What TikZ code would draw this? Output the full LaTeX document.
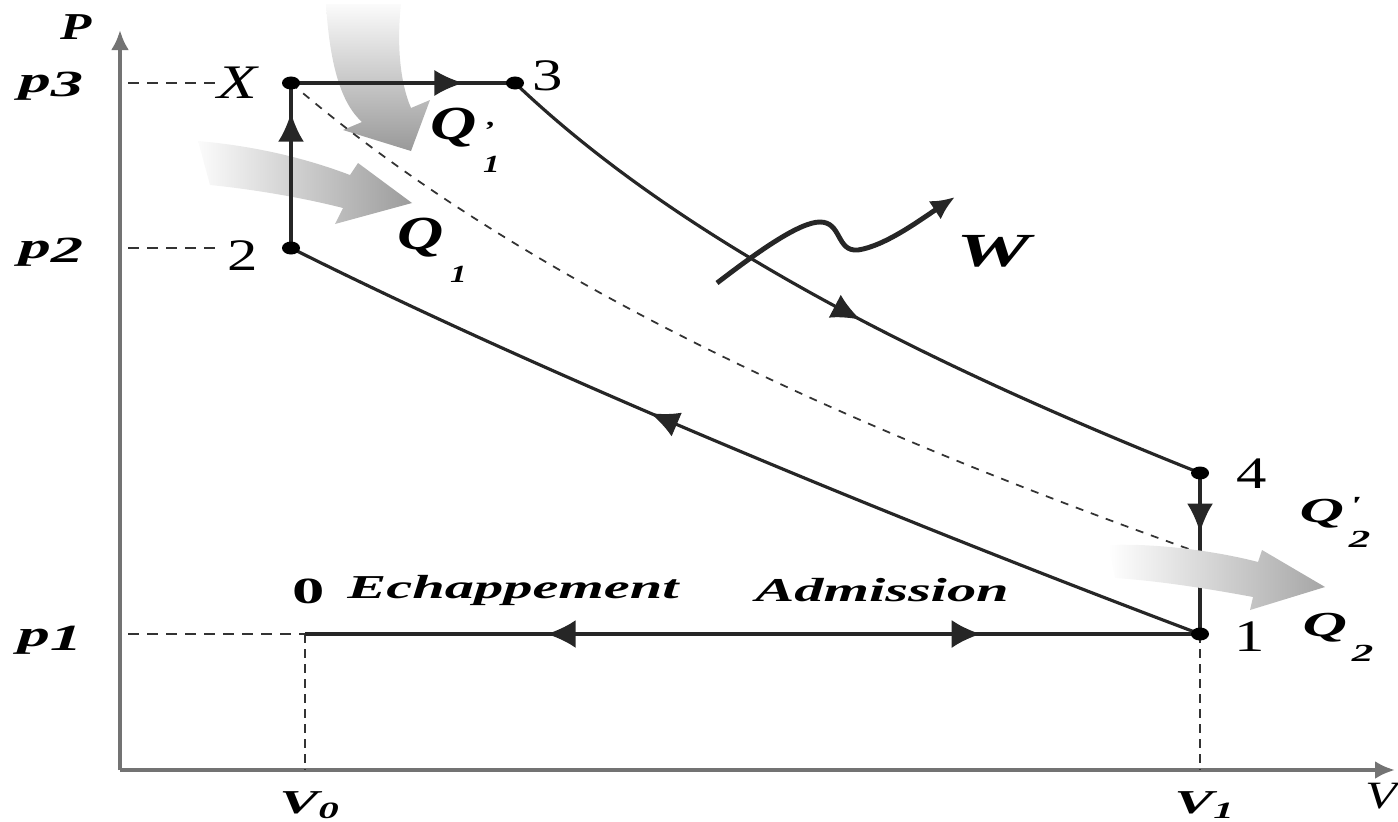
\documentclass[tikz,border=0pt]{standalone}
\usepackage{fontspec}
\setmainfont{Liberation Serif}[FakeStretch=1.35]
\newfontfamily\wideserif{Liberation Serif}[FakeStretch=1.75]
\usetikzlibrary{arrows.meta,positioning,decorations.markings}

\newcommand{\bi}{\bfseries\itshape}
\newcommand{\heatlab}[2]{Q\kern0.14em\raisebox{-1.5ex}{\scriptsize\shortstack[l]{#1\\[2pt]#2}}}

\begin{document}
\begin{tikzpicture}[
    x=0.01cm, y=-0.01cm,
    axis/.style={draw=black!55, line width=1.3pt, -{Latex[length=2mm,width=1.8mm]}},
    proc/.style={draw=black!85, line width=0.9pt},
    guide/.style={draw=black!80, line width=0.45pt, dash pattern=on 1.1mm off 0.8mm},
    vguide/.style={guide, dash pattern=on 0.9mm off 0.6mm},
    midtip/.style={postaction={decorate}, decoration={markings,
        mark=at position #1 with {\arrow{Latex[length=2.9mm,width=2.6mm]}}}},
    bothway/.style={postaction={decorate}, decoration={markings,
        mark=at position 0.27 with {\arrowreversed{Latex[length=2.9mm,width=2.8mm]}},
        mark=at position 0.755 with {\arrow{Latex[length=2.9mm,width=2.8mm]}}}},
    lbl/.style={inner sep=0pt},
    num/.style={lbl, font=\fontsize{12.8}{14}\selectfont},
    axlab/.style={lbl, font=\fontsize{10.8}{12}\selectfont\bi},
    wide/.style={lbl, font=\wideserif\fontsize{9.5}{11}\selectfont\bi},
    heatname/.style={lbl, font=\fontsize{13.5}{15}\selectfont\bi},
    dot/.style={fill=black}
]
    \useasboundingbox (0,0) rectangle (1398,821);

    % States
    \coordinate (orig) at (120,770);
    \coordinate (ptop) at (120,30);
    \coordinate (vend) at (1395,770);
    \coordinate (a3) at (128,83);
    \coordinate (a2) at (128,248);
    \coordinate (a1) at (128,634);
    \coordinate (ptX) at (291,83);
    \coordinate (pt3) at (515,83);
    \coordinate (pt2) at (291,248);
    \coordinate (pt4) at (1200,473);
    \coordinate (pt1) at (1200,634);
    \coordinate (pt0) at (305,634);
    \coordinate (qmeet) at (1200,553);
    \coordinate (v0) at (305,770);
    \coordinate (v1) at (1200,770);
    \coordinate (wst) at (717,283);
    \coordinate (wtip) at (955,197);

    % Labels
    \node [axlab] (labP) at (76,27) {P};
    \node [lbl, font=\fontsize{11}{12}\selectfont\itshape] (labV) at (1381,796) {V};
    \node [wide, font=\wideserif\fontsize{10.5}{12}\selectfont\bi] (labp3) at (51,86) {p\lower0.25ex\hbox{3}};
    \node [wide, font=\wideserif\fontsize{10.5}{12}\selectfont\bi] (labp2) at (51,252) {p\lower0.25ex\hbox{2}};
    \node [wide, font=\wideserif\fontsize{10.5}{12}\selectfont\bi] (labp1) at (50,640) {p\lower0.25ex\hbox{1}};
    \node [num, font=\fontsize{13.7}{15}\selectfont\itshape] (labX) at (237,83) {X};
    \node [num] (lab2) at (243,256) {2};
    \node [num] (lab3) at (548,76) {3};
    \node [num] (lab4) at (1252,474) {4};
    \node [num] (lab1) at (1250,637) {1};
    \node [wide] (labV0) at (310,805) {V\textsubscript{0}};
    \node [wide] (labV1) at (1205,805) {V\textsubscript{1}};
    \node [wide, font=\wideserif\fontsize{10.5}{11}\selectfont\bfseries] (lab0) at (309,591) {0};
    \node [wide] (echap) at (513,590) {Echappement};
    \node [wide] (admis) at (882,590) {Admission};
    \node [heatname] (labQa) at (465,140) {\heatlab{'}{1}};
    \node [heatname] (labQb) at (432,250) {\heatlab{\strut}{1}};
    \node [wide, font=\wideserif\fontsize{10}{11}\selectfont\bi] (labQc) at (1335,522) {\heatlab{'}{2}};
    \node [wide, font=\wideserif\fontsize{10}{11}\selectfont\bi] (labQd) at (1338,630) {\heatlab{\strut}{2}};
    \node [wide, font=\wideserif\fontsize{13.5}{15}\selectfont\bi] (labW) at (993,251) {W};

    % Heat in
    \shade [top color=gray!3, bottom color=gray!80]
        (326,4) .. controls (330,70) and (343,105) .. (362,122) -- (343,130) -- (411,151)
        -- (430,100) -- (411,108) .. controls (399,80) and (397,40) .. (401,4) -- cycle;
    \shade [left color=gray!3, right color=gray!78]
        (198,141) .. controls (255,146) and (305,158) .. (350,175) -- (358,163) -- (412,203)
        -- (335,224) -- (343,208) .. controls (300,197) and (250,189) .. (210,185) -- cycle;

    % Axes and guides
    \draw [axis] (orig) -- (ptop);
    \draw [axis] (orig) -- (vend);
    \draw [guide] (a3) -- (labX.west);
    \draw [guide] (a2) -- ([xshift=-3pt]a2 -| lab2.west);
    \draw [guide] (a1) -- (pt0);
    \draw [vguide] (pt0) -- (v0);
    \draw [vguide] (pt1) -- (v1);
    \draw [guide, line width=0.5pt, dash pattern=on 0.8mm off 0.8mm]
        (ptX) .. controls (540,297) and (897,445) .. (qmeet);

    % Cycle
    \draw [proc, midtip=0.82] (pt2) -- (ptX);
    \draw [proc, midtip=0.77] (ptX) -- (pt3);
    \draw [proc, midtip=0.53] (pt3) .. controls (690,250) and (950,373) .. (pt4);
    \draw [proc, midtip=0.37] (pt4) -- (pt1);
    \draw [proc, midtip=0.6] (pt1) .. controls (900,521) and (540,373) .. (pt2);
    \draw [proc, bothway] (pt0) -- (pt1);
    \foreach \p in {ptX,pt3,pt2,pt4,pt1}
        \fill [dot] (\p) ellipse [x radius=0.9mm, y radius=0.65mm];

    % Work out
    \draw [draw=black!85, line width=1.4pt, -{Latex[length=2.4mm,width=2.2mm]}]
        (wst) .. controls (760,250) and (800,222) .. (820,222)
        .. controls (842,222) and (836,252) .. (858,250)
        .. controls (885,246) and (920,220) .. (wtip);

    % Heat out
    \shade [left color=white, right color=gray!70]
        (1108,545) .. controls (1160,543) and (1220,552) .. (1258,562) -- (1262,550) -- (1325,587)
        -- (1250,610) -- (1253,597) .. controls (1210,589) and (1160,581) .. (1115,578) -- cycle;
\end{tikzpicture}
\end{document}
